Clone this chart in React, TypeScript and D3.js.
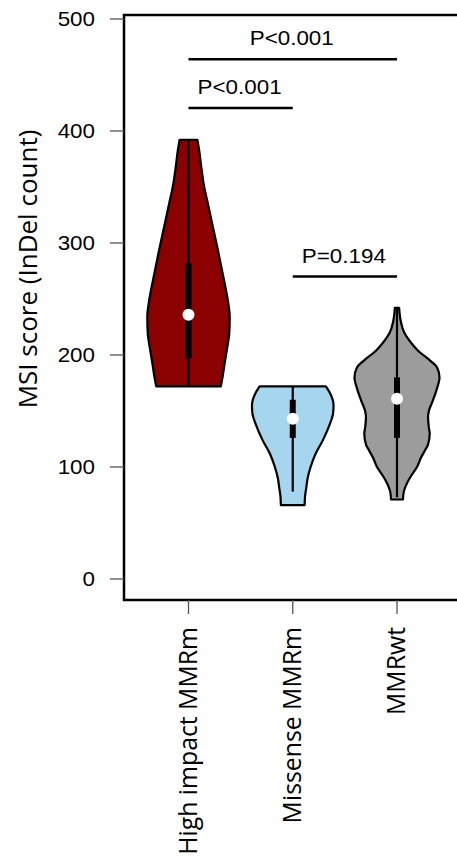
import React from "react";
import * as d3 from "d3";

const groups = ["High impact MMRm", "Missense MMRm", "MMRwt"];
const fills = ["#8B0000", "#A6D5EE", "#9C9C9C"];

// density profiles: [value, relative density]
const densHigh: [number, number][] = [
  [392, 0.21], [383, 0.25], [368, 0.3], [350, 0.37], [338, 0.44], [315, 0.57],
  [294, 0.69], [264, 0.85], [250, 0.92], [234, 0.97], [220, 0.96], [204, 0.9],
  [190, 0.84], [180, 0.8], [172, 0.76],
];
const densMissense: [number, number][] = [
  [172, 0.78], [165, 0.89], [155, 0.96], [148, 0.95], [138, 0.87], [124, 0.71],
  [112, 0.54], [100, 0.42], [90, 0.35], [82, 0.32], [74, 0.29], [66, 0.28],
];
const densWt: [number, number][] = [
  [242, 0.05], [230, 0.09], [220, 0.17], [210, 0.35], [204, 0.49], [195, 0.78],
  [189, 0.94], [180, 1.0], [170, 0.94], [160, 0.85], [150, 0.75], [145, 0.73],
  [135, 0.75], [130, 0.77], [120, 0.73], [115, 0.66], [108, 0.56], [100, 0.47],
  [92, 0.33], [86, 0.24], [78, 0.16], [71, 0.14],
];
const densities = [densHigh, densMissense, densWt];

const whiskerLow = [172, 78, 73];
const whiskerHigh = [392, 172, 242];
const q1 = [197, 126, 126];
const q3 = [282, 160, 180];
const medians = [236, 143, 161];

const yTicks = [0, 100, 200, 300, 400, 500];

const bracketFrom = ["High impact MMRm", "High impact MMRm", "Missense MMRm"];
const bracketTo = ["MMRwt", "Missense MMRm", "MMRwt"];
const bracketY = [464, 420.5, 270];
const bracketLabels = ["P<0.001", "P<0.001", "P=0.194"];

export default function App() {
  const W = 457;
  const H = 865;
  const y = d3.scaleLinear().domain([0, 500]).range([579, 19]);
  const x = d3.scalePoint<string>().domain(groups).range([188.5, 397]);
  const w = d3.scaleLinear().domain([0, 1]).range([0, 42.5]);
  const left = 124;
  const top = y(503.6);
  const bottom = y(-18.75);

  const arial = "'Liberation Sans', Arial, sans-serif";
  const calib = "'Open Sans', sans-serif";
  const sx = 1.12;

  return (
    <svg
      width={W}
      height={H}
      style={{ position: "absolute", left: 0, top: 0, background: "#fff" }}
    >
      {/* violins */}
      {groups.map((g, i) => {
        const cx = x(g)!;
        const area = d3
          .area<[number, number]>()
          .y((d) => y(d[0]))
          .x0((d) => cx - w(d[1]))
          .x1((d) => cx + w(d[1]))
          .curve(d3.curveMonotoneY);
        return (
          <g key={g}>
            <path
              d={area(densities[i]) || ""}
              fill={fills[i]}
              stroke="#000"
              strokeWidth={2.2}
              strokeLinejoin="round"
            />
            <line
              x1={cx}
              x2={cx}
              y1={y(whiskerLow[i])}
              y2={y(whiskerHigh[i])}
              stroke="#000"
              strokeWidth={2.2}
            />
            <line
              x1={cx}
              x2={cx}
              y1={y(q1[i])}
              y2={y(q3[i])}
              stroke="#000"
              strokeWidth={6}
            />
            <circle cx={cx} cy={y(medians[i])} r={6} fill="#fff" />
          </g>
        );
      })}

      {/* box */}
      <path
        d={`M${W + 5},${top} H${left} V${bottom} H${W + 5}`}
        fill="none"
        stroke="#000"
        strokeWidth={2.5}
      />

      {/* y axis ticks */}
      {yTicks.map((t) => (
        <g key={t}>
          <line x1={110} x2={left} y1={y(t)} y2={y(t)} stroke="#555" strokeWidth={1.3} />
          <text
            transform={`translate(95,${y(t) + 7}) scale(${sx},1)`}
            textAnchor="end"
            fontFamily={arial}
            fontSize={20}
            fill="#000"
          >
            {t}
          </text>
        </g>
      ))}

      {/* x ticks and labels */}
      {groups.map((g) => {
        const cx = x(g)!;
        return (
          <g key={g}>
            <line x1={cx} x2={cx} y1={bottom} y2={bottom + 14} stroke="#555" strokeWidth={1.3} />
            <text
              transform={`translate(${cx + 8},${bottom + 27}) rotate(-90)`}
              textAnchor="end"
              fontFamily={calib}
              fontSize={24.8}
              fill="#000"
            >
              {g}
            </text>
          </g>
        );
      })}

      {/* y title */}
      <text
        transform={`translate(37,${269}) rotate(-90)`}
        textAnchor="middle"
        fontFamily={calib}
        fontSize={26}
        fill="#000"
      >
        MSI score (InDel count)
      </text>

      {/* significance brackets */}
      {bracketLabels.map((lab, i) => {
        const x1 = x(bracketFrom[i])!;
        const x2 = x(bracketTo[i])!;
        const yy = y(bracketY[i]);
        return (
          <g key={i}>
            <line x1={x1} x2={x2} y1={yy} y2={yy} stroke="#000" strokeWidth={2.5} />
            <text
              transform={`translate(${(x1 + x2) / 2 - 1},${yy - 14}) scale(${sx},1)`}
              textAnchor="middle"
              fontFamily={arial}
              fontSize={20}
              fill="#000"
            >
              {lab}
            </text>
          </g>
        );
      })}
    </svg>
  );
}
